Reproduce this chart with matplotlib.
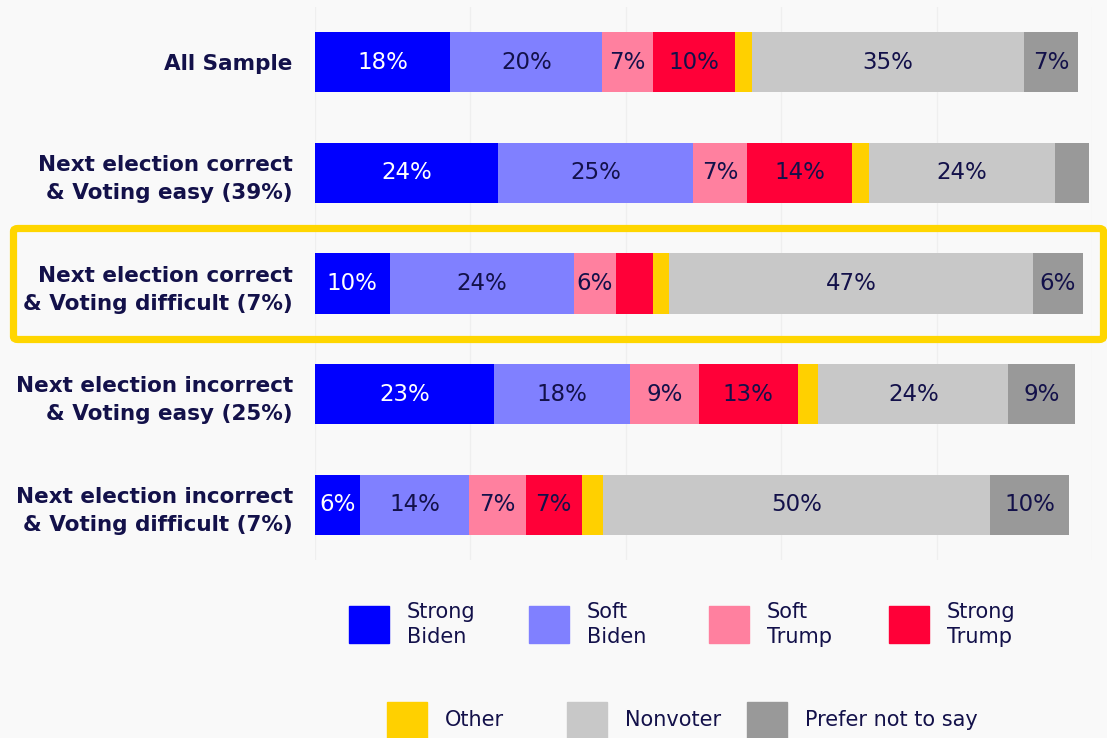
import numpy as np
import matplotlib.pyplot as plt
from matplotlib.patches import Rectangle, FancyBboxPatch

groups = ["All Sample",
          "Next election correct\n& Voting easy (39%)",
          "Next election correct\n& Voting difficult (7%)",
          "Next election incorrect\n& Voting easy (25%)",
          "Next election incorrect\n& Voting difficult (7%)"]

series = ["Strong\nBiden", "Soft\nBiden", "Soft\nTrump", "Strong\nTrump",
          "Other", "Nonvoter", "Prefer not to say"]
colors = ["#0000FF", "#8080FF", "#FF809F", "#FF0038",
          "#FFD000", "#C8C8C8", "#999999"]

strong_biden = [17.4, 23.6, 9.6, 23.0, 5.8]
soft_biden = [19.6, 25.0, 23.7, 17.5, 14.0]
soft_trump = [6.5, 7.0, 5.4, 8.9, 7.3]
strong_trump = [10.6, 13.5, 4.8, 12.7, 7.25]
other = [2.1, 2.2, 2.1, 2.65, 2.7]
nonvoter = [35.0, 24.0, 46.8, 24.5, 49.8]
prefer_not = [7.0, 4.3, 6.4, 8.6, 10.2]

sb_labels = ["18%", "24%", "10%", "23%", "6%"]
softb_labels = ["20%", "25%", "24%", "18%", "14%"]
softt_labels = ["7%", "7%", "6%", "9%", "7%"]
strt_labels = ["10%", "14%", "", "13%", "7%"]
other_labels = ["", "", "", "", ""]
nv_labels = ["35%", "24%", "47%", "24%", "50%"]
pns_labels = ["7%", "", "6%", "9%", "10%"]

values = [strong_biden, soft_biden, soft_trump, strong_trump, other, nonvoter, prefer_not]
labels = [sb_labels, softb_labels, softt_labels, strt_labels, other_labels, nv_labels, pns_labels]

navy = "#13114A"
bg = "#F9F9F9"

W, H = 1107, 738
fig = plt.figure(figsize=(W / 100, H / 100), dpi=100)
fig.patch.set_facecolor(bg)
ax = fig.add_axes([315 / W, 1 - 560 / H, 777 / W, 553 / H])
ax.set_facecolor(bg)

y = np.arange(len(groups))
left = np.zeros(len(groups))
for vals, labs, col in zip(values, labels, colors):
    vals = np.array(vals)
    ax.barh(y, vals, left=left, height=0.546, color=col, zorder=2)
    for i in range(len(groups)):
        if labs[i]:
            tc = "white" if col == "#0000FF" else navy
            ax.text(left[i] + vals[i] / 2, y[i], labs[i], ha="center", va="center",
                    fontsize=16.5, color=tc, zorder=3)
    left += vals

ax.set_xlim(0, 100)
ax.set_ylim(4.5, -0.5)
ax.set_xticks(np.arange(0, 101, 20))
ax.set_xticklabels([])
ax.grid(axis="x", color="#EFEFEF", linewidth=1, zorder=0)
ax.tick_params(axis="both", length=0)
ax.tick_params(axis="y", pad=16)
ax.set_yticks(y)
ax.set_yticklabels(groups, fontsize=15.5, fontweight="bold", color=navy, linespacing=1.5)
for s in ax.spines.values():
    s.set_visible(False)

# highlight box
box = FancyBboxPatch((13.5 / W, 1 - 339.5 / H), (1103.5 - 13.5) / W, 111 / H,
                     boxstyle="round,pad=0,rounding_size=0.004",
                     transform=fig.transFigure, facecolor="none",
                     edgecolor="#FFD600", linewidth=5.2)
fig.patches.append(box)

# legend
row1 = [(349 + 180 * i, 624.5) for i in range(4)]
row2 = [(387 + 180 * i, 720) for i in range(3)]
for (lx, ly), name, col in zip(row1 + row2, series, colors):
    fig.patches.append(Rectangle((lx / W, 1 - (ly + 18.5) / H), 40 / W, 37 / H,
                                 transform=fig.transFigure, color=col))
    fig.text((lx + 58) / W, 1 - ly / H, name, ha="left", va="center",
             fontsize=15, color=navy, linespacing=1.3)

plt.savefig("out.png", dpi=100, facecolor=bg)
